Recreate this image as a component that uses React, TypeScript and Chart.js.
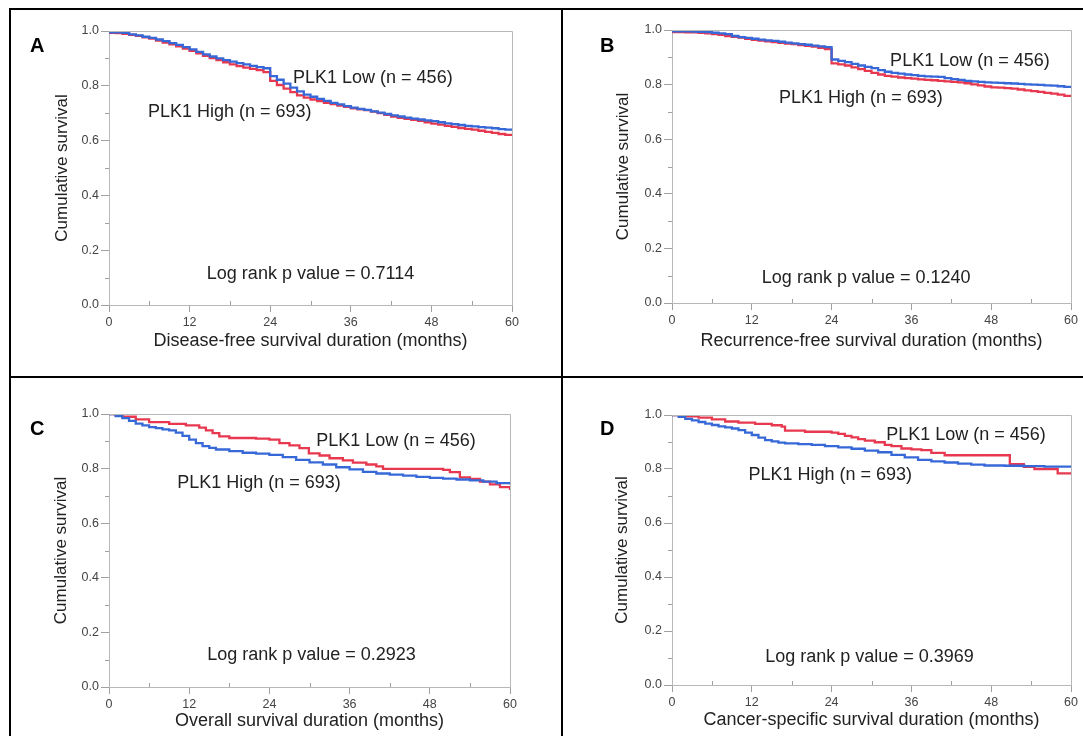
import React, { useEffect, useRef } from 'react';
import { Chart, registerables } from 'chart.js';

Chart.register(...registerables);

const FONT = '"Liberation Sans", Arial, Helvetica, sans-serif';
const BLUE = '#3768d8';
const RED = '#e8384f';
const TEXT = '#222222';
const TICK_TEXT = '#444444';
const FRAME = '#b8b8b8';

// ---------- axis tick values ----------
const xMajorStep = 12;
const xMinorTicks = [6, 18, 30, 42, 54];
const yMinorTicks = [0.1, 0.3, 0.5, 0.7, 0.9];

// ---------- A: Disease-free survival ----------
const dfsTimes = [0, 1, 2, 3, 4, 5, 6, 7, 8, 9, 10, 11, 12, 13, 14, 15, 16, 17, 18, 19, 20, 21, 22, 23, 24, 25, 26, 27, 28, 29, 30, 31, 32, 33, 34, 35, 36, 37, 38, 39, 40, 41, 42, 43, 44, 45, 46, 47, 48, 49, 50, 51, 52, 53, 54, 55, 56, 57, 58, 59, 60];
const dfsBlue = [0.995, 0.995, 0.993, 0.988, 0.984, 0.979, 0.975, 0.969, 0.963, 0.956, 0.949, 0.941, 0.933, 0.924, 0.915, 0.907, 0.900, 0.894, 0.888, 0.883, 0.878, 0.873, 0.868, 0.864, 0.835, 0.822, 0.808, 0.793, 0.780, 0.768, 0.760, 0.752, 0.745, 0.738, 0.732, 0.726, 0.720, 0.716, 0.712, 0.707, 0.702, 0.697, 0.692, 0.688, 0.684, 0.680, 0.677, 0.674, 0.671, 0.667, 0.663, 0.660, 0.657, 0.654, 0.652, 0.649, 0.647, 0.645, 0.642, 0.640, 0.639];
const dfsRed = [0.993, 0.992, 0.990, 0.986, 0.982, 0.977, 0.972, 0.965, 0.958, 0.951, 0.944, 0.936, 0.928, 0.918, 0.909, 0.901, 0.894, 0.886, 0.878, 0.872, 0.866, 0.862, 0.857, 0.850, 0.818, 0.803, 0.790, 0.777, 0.765, 0.757, 0.750, 0.744, 0.738, 0.733, 0.728, 0.723, 0.718, 0.714, 0.711, 0.706, 0.700, 0.694, 0.688, 0.683, 0.679, 0.676, 0.672, 0.667, 0.662, 0.658, 0.654, 0.650, 0.646, 0.643, 0.640, 0.636, 0.632, 0.628, 0.624, 0.621, 0.618];

// ---------- B: Recurrence-free survival ----------
const rfsTimes = dfsTimes;
const rfsBlue = [0.995, 0.995, 0.995, 0.994, 0.993, 0.992, 0.990, 0.988, 0.985, 0.978, 0.974, 0.971, 0.968, 0.965, 0.962, 0.960, 0.957, 0.954, 0.951, 0.948, 0.946, 0.943, 0.940, 0.937, 0.892, 0.887, 0.882, 0.876, 0.870, 0.865, 0.860, 0.853, 0.847, 0.843, 0.840, 0.837, 0.835, 0.832, 0.830, 0.829, 0.828, 0.824, 0.820, 0.817, 0.814, 0.812, 0.810, 0.808, 0.807, 0.806, 0.805, 0.804, 0.803, 0.801, 0.800, 0.799, 0.797, 0.796, 0.794, 0.792, 0.791];
const rfsRed = [0.992, 0.992, 0.991, 0.991, 0.990, 0.988, 0.985, 0.982, 0.978, 0.975, 0.972, 0.968, 0.964, 0.961, 0.958, 0.956, 0.953, 0.950, 0.948, 0.945, 0.942, 0.939, 0.935, 0.930, 0.878, 0.874, 0.870, 0.863, 0.857, 0.850, 0.843, 0.837, 0.832, 0.829, 0.826, 0.824, 0.822, 0.819, 0.817, 0.816, 0.814, 0.812, 0.810, 0.808, 0.805, 0.801, 0.797, 0.793, 0.790, 0.789, 0.787, 0.785, 0.782, 0.779, 0.776, 0.773, 0.770, 0.767, 0.763, 0.759, 0.755];

// ---------- C: Overall survival ----------
const osBlueTimes = [0, 1, 2, 3, 4, 5, 6, 7, 8, 9, 10, 11, 12, 13, 14, 15, 16, 18, 20, 22, 24, 26, 28, 30, 32, 34, 36, 38, 40, 42, 44, 46, 48, 50, 52, 54, 56, 58, 60];
const osBlue = [1.0, 0.992, 0.985, 0.975, 0.965, 0.958, 0.952, 0.948, 0.944, 0.940, 0.932, 0.920, 0.906, 0.893, 0.882, 0.876, 0.870, 0.864, 0.858, 0.855, 0.850, 0.842, 0.832, 0.823, 0.815, 0.805, 0.797, 0.788, 0.782, 0.778, 0.774, 0.770, 0.766, 0.763, 0.760, 0.757, 0.752, 0.747, 0.742];
const osRedTimes = [0, 1, 2, 4, 6, 9, 11.5, 13.5, 14.5, 15.5, 16.5, 18, 22, 24, 25.5, 27, 28.5, 29.9, 31.5, 33, 35, 36.5, 38.5, 40, 41, 50, 51, 52.5, 54, 55.5, 57, 58.5, 60];
const osRed = [1.0, 0.995, 0.990, 0.980, 0.970, 0.964, 0.958, 0.950, 0.940, 0.930, 0.918, 0.912, 0.910, 0.906, 0.893, 0.885, 0.875, 0.856, 0.848, 0.838, 0.830, 0.822, 0.815, 0.808, 0.799, 0.795, 0.787, 0.768, 0.762, 0.752, 0.742, 0.732, 0.722];

// ---------- D: Cancer-specific survival ----------
const cssBlueTimes = [0, 1, 2, 3, 4, 5, 6, 7, 8, 9, 10, 11, 12, 13, 14, 15, 16, 17, 19, 21, 23, 25, 27, 29, 31, 33, 35, 37, 39, 41, 43, 45, 47, 50, 53, 56, 60];
const cssBlue = [1.0, 0.993, 0.986, 0.980, 0.974, 0.968, 0.963, 0.958, 0.954, 0.950, 0.944, 0.935, 0.926, 0.916, 0.907, 0.902, 0.898, 0.895, 0.892, 0.889, 0.885, 0.880, 0.875, 0.868, 0.862, 0.852, 0.843, 0.834, 0.828, 0.824, 0.820, 0.816, 0.813, 0.812, 0.811, 0.809, 0.806];
const cssRedTimes = [0, 2, 4, 6, 8, 10, 12.5, 15, 16.5, 17, 20, 24, 25, 26, 27, 28, 29, 30.5, 32, 33, 34.5, 36, 37.5, 39, 41, 50.8, 52.9, 54.5, 58, 60];
const cssRed = [1.0, 0.995, 0.990, 0.984, 0.976, 0.972, 0.967, 0.962, 0.957, 0.942, 0.938, 0.935, 0.930, 0.923, 0.917, 0.911, 0.905, 0.899, 0.889, 0.885, 0.876, 0.873, 0.870, 0.860, 0.851, 0.818, 0.808, 0.800, 0.784, 0.783];

// ---------- texts ----------
const lowLabel = 'PLK1 Low (n = 456)';
const highLabel = 'PLK1 High (n = 693)';
const yTitle = 'Cumulative survival';
const xTitles = [
  'Disease-free survival duration (months)',
  'Recurrence-free survival duration (months)',
  'Overall survival duration (months)',
  'Cancer-specific survival duration (months)',
];
const pValues = ['0.7114', '0.1240', '0.2923', '0.3969'];
const letters = ['A', 'B', 'C', 'D'];

type Note = { text: string; t: number; v: number; align: CanvasTextAlign };
type PanelSpec = {
  box: { x: number; y: number; w: number; h: number };
  yAxisW: number;
  xAxisH: number;
  padTop: number;
  padRight: number;
  yTitlePad: number;
  xTitlePad: number;
  blueT: number[];
  blueV: number[];
  redT: number[];
  redV: number[];
  xTitle: string;
  letter: string;
  letterPos: [number, number];
  notes: Note[];
};

const PANELS: PanelSpec[] = [
  {
    box: { x: 11, y: 10, w: 550, h: 366 },
    yAxisW: 98, xAxisH: 71, padTop: 21, padRight: 49, yTitlePad: 41, xTitlePad: 24,
    blueT: dfsTimes, blueV: dfsBlue, redT: dfsTimes, redV: dfsRed,
    xTitle: xTitles[0], letter: letters[0], letterPos: [19, 42],
    notes: [
      { text: lowLabel, t: 27.4, v: 0.828, align: 'left' },
      { text: highLabel, t: 5.8, v: 0.704, align: 'left' },
      { text: 'Log rank p value = ' + pValues[0], t: 30, v: 0.113, align: 'center' },
    ],
  },
  {
    box: { x: 563, y: 10, w: 520, h: 366 },
    yAxisW: 109, xAxisH: 73, padTop: 20, padRight: 12, yTitlePad: 50, xTitlePad: 24,
    blueT: rfsTimes, blueV: rfsBlue, redT: rfsTimes, redV: rfsRed,
    xTitle: xTitles[1], letter: letters[1], letterPos: [37, 42],
    notes: [
      { text: lowLabel, t: 32.8, v: 0.888, align: 'left' },
      { text: highLabel, t: 16.1, v: 0.751, align: 'left' },
      { text: 'Log rank p value = ' + pValues[1], t: 29.2, v: 0.093, align: 'center' },
    ],
  },
  {
    box: { x: 11, y: 378, w: 550, h: 358 },
    yAxisW: 98, xAxisH: 49, padTop: 36, padRight: 51, yTitlePad: 40, xTitlePad: 4,
    blueT: osBlueTimes, blueV: osBlue, redT: osRedTimes, redV: osRed,
    xTitle: xTitles[2], letter: letters[2], letterPos: [19, 57],
    notes: [
      { text: lowLabel, t: 31.0, v: 0.901, align: 'left' },
      { text: highLabel, t: 10.2, v: 0.747, align: 'left' },
      { text: 'Log rank p value = ' + pValues[2], t: 30.3, v: 0.117, align: 'center' },
    ],
  },
  {
    box: { x: 563, y: 378, w: 520, h: 358 },
    yAxisW: 109, xAxisH: 51, padTop: 37, padRight: 12, yTitlePad: 49, xTitlePad: 5,
    blueT: cssBlueTimes, blueV: cssBlue, redT: cssRedTimes, redV: cssRed,
    xTitle: xTitles[3], letter: letters[3], letterPos: [37, 57],
    notes: [
      { text: lowLabel, t: 32.2, v: 0.924, align: 'left' },
      { text: highLabel, t: 11.5, v: 0.778, align: 'left' },
      { text: 'Log rank p value = ' + pValues[3], t: 29.7, v: 0.102, align: 'center' },
    ],
  },
];

function zip(ts: number[], vs: number[]) {
  return ts.map((t, i) => ({ x: t, y: vs[i] }));
}

function makeConfig(p: PanelSpec): any {
  const decorPlugin = {
    id: 'kmDecor' + p.letter,
    afterDraw(chart: any) {
      const { ctx, chartArea: a, scales } = chart;
      const x = scales.x;
      const y = scales.y;
      ctx.save();
      // top and right frame lines
      ctx.strokeStyle = FRAME;
      ctx.lineWidth = 1;
      ctx.beginPath();
      ctx.moveTo(a.left, a.top + 0.5);
      ctx.lineTo(a.right + 0.5, a.top + 0.5);
      ctx.lineTo(a.right + 0.5, a.bottom);
      ctx.stroke();
      // minor ticks
      ctx.strokeStyle = '#a0a0a0';
      ctx.beginPath();
      for (const v of yMinorTicks) {
        const py = Math.round(y.getPixelForValue(v)) + 0.5;
        ctx.moveTo(a.left - 4, py);
        ctx.lineTo(a.left, py);
      }
      for (const t of xMinorTicks) {
        const px = Math.round(x.getPixelForValue(t)) + 0.5;
        ctx.moveTo(px, a.bottom);
        ctx.lineTo(px, a.bottom - 4);
      }
      ctx.stroke();
      // annotations
      ctx.fillStyle = TEXT;
      ctx.font = '18px ' + FONT;
      ctx.textBaseline = 'middle';
      for (const n of p.notes) {
        ctx.textAlign = n.align;
        ctx.fillText(n.text, x.getPixelForValue(n.t), y.getPixelForValue(n.v));
      }
      // panel letter
      ctx.font = 'bold 20px ' + FONT;
      ctx.textAlign = 'left';
      ctx.textBaseline = 'alphabetic';
      ctx.fillStyle = '#000';
      ctx.fillText(p.letter, p.letterPos[0], p.letterPos[1]);
      ctx.restore();
    },
  };

  const lineCommon = {
    stepped: 'before',
    pointRadius: 0,
    pointHoverRadius: 0,
    borderWidth: 2.3,
    fill: false,
    tension: 0,
  };

  return {
    type: 'line',
    data: {
      datasets: [
        { ...lineCommon, label: 'blue', data: zip(p.blueT, p.blueV), borderColor: BLUE, backgroundColor: BLUE },
        { ...lineCommon, label: 'red', data: zip(p.redT, p.redV), borderColor: RED, backgroundColor: RED },
      ],
    },
    options: {
      animation: false,
      responsive: false,
      maintainAspectRatio: false,
      events: [],
      layout: { padding: { left: 0, top: p.padTop, right: p.padRight, bottom: 0 } },
      plugins: { legend: { display: false }, tooltip: { enabled: false }, title: { display: false } },
      scales: {
        x: {
          type: 'linear',
          min: 0,
          max: 60,
          ticks: {
            stepSize: xMajorStep,
            autoSkip: false,
            maxRotation: 0,
            padding: 3,
            color: TICK_TEXT,
            font: { family: FONT, size: 12.5 },
          },
          grid: { drawOnChartArea: false, drawTicks: true, tickLength: 7, tickColor: '#a0a0a0', color: '#a0a0a0' },
          border: { display: true, color: FRAME, width: 1 },
          title: {
            display: true,
            text: p.xTitle,
            color: TEXT,
            font: { family: FONT, size: 18 },
            padding: { top: 0, bottom: p.xTitlePad },
          },
          afterFit: (s: any) => {
            s.height = p.xAxisH;
          },
        },
        y: {
          type: 'linear',
          min: 0,
          max: 1,
          ticks: {
            stepSize: 0.2,
            padding: 2,
            color: TICK_TEXT,
            font: { family: FONT, size: 12.5 },
            callback: (v: any) => Number(v).toFixed(1),
          },
          grid: { drawOnChartArea: false, drawTicks: true, tickLength: 8, tickColor: '#a0a0a0', color: '#a0a0a0' },
          border: { display: true, color: FRAME, width: 1 },
          title: {
            display: true,
            text: yTitle,
            color: TEXT,
            font: { family: FONT, size: 17 },
            padding: { top: p.yTitlePad, bottom: 0 },
          },
          afterFit: (s: any) => {
            s.width = p.yAxisW;
          },
        },
      },
    },
    plugins: [decorPlugin],
  };
}

function Panel({ spec }: { spec: PanelSpec }) {
  const ref = useRef<HTMLCanvasElement>(null);
  useEffect(() => {
    if (!ref.current) return;
    const chart = new Chart(ref.current, makeConfig(spec));
    return () => chart.destroy();
  }, [spec]);
  return (
    <canvas
      ref={ref}
      width={spec.box.w}
      height={spec.box.h}
      style={{ position: 'absolute', left: spec.box.x, top: spec.box.y, width: spec.box.w, height: spec.box.h }}
    />
  );
}

const lineStyle = (l: number, t: number, w: number, h: number): React.CSSProperties => ({
  position: 'absolute',
  left: l,
  top: t,
  width: w,
  height: h,
  background: '#000',
});

export default function App() {
  return (
    <div style={{ position: 'absolute', left: 0, top: 0, width: 1083, height: 736, background: '#fff', overflow: 'hidden' }}>
      {PANELS.map((p) => (
        <Panel key={p.letter} spec={p} />
      ))}
      <div style={lineStyle(9, 8, 1074, 2)} />
      <div style={lineStyle(9, 8, 2, 728)} />
      <div style={lineStyle(561, 8, 2, 728)} />
      <div style={lineStyle(9, 376, 1074, 2)} />
    </div>
  );
}
